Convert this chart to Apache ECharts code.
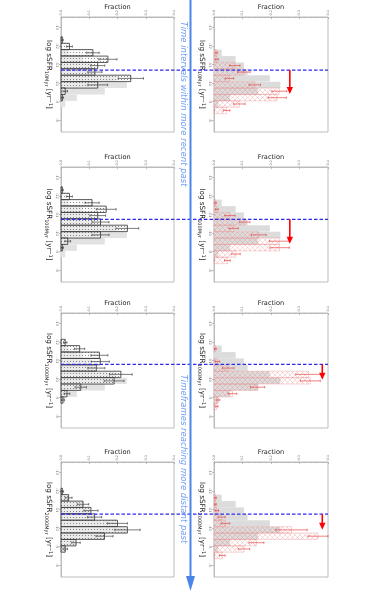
<!DOCTYPE html>
<html><head><meta charset="utf-8">
<script src="https://cdn.jsdelivr.net/npm/echarts@6/dist/echarts.min.js"></script>
<style>html,body{margin:0;padding:0;background:#fff}#c{width:371px;height:594px}</style>
</head><body><div id="c"></div>
<script>
// ---------- data ----------
const binCenters = [-12.31,-11.96,-11.62,-11.27,-10.93,-10.58,-10.24,-9.89,-9.55,-9.20,-8.86,-8.51,-8.17,-7.82];
const binWidth = 0.345;
const fracTicks = [0, 0.1, 0.2, 0.3, 0.4];
const ssfrTicks = [-13, -12, -11, -10, -9, -8];
const rowLabels = ['10Myr', '100Myr', '1000Myr', '2000Myr'];
const grayAll = [0,0,0.027,0.076,0.105,0.118,0.196,0.233,0.155,0.056,0.015,0,0,0];

const leftRow1 = [0.005,0.03,0.113,0.166,0.13,0.12,0.247,0.13,0.015,0.005,0,0,0,0];
const leftErr1 = [0.003,0.01,0.022,0.032,0.025,0.025,0.045,0.035,0.008,0.004,0,0,0,0];
const leftRow2 = [0.005,0.03,0.11,0.16,0.13,0.14,0.235,0.14,0.024,0.005,0,0,0,0];
const leftErr2 = [0.003,0.01,0.025,0.035,0.028,0.03,0.04,0.03,0.01,0.004,0,0,0,0];
const leftRow3 = [0,0.015,0.066,0.136,0.139,0.125,0.212,0.188,0.07,0.021,0.007,0,0,0];
const leftErr3 = [0,0.006,0.018,0.03,0.032,0.03,0.04,0.035,0.02,0.01,0.005,0,0,0];
const leftRow4 = [0,0.005,0.027,0.078,0.106,0.119,0.2,0.235,0.154,0.053,0.015,0,0,0];
const leftErr4 = [0,0.004,0.012,0.02,0.025,0.025,0.035,0.045,0.03,0.015,0.008,0,0,0];

const redRow1 = [0,0,0.008,0.01,0.073,0.105,0.054,0.143,0.229,0.222,0.089,0.044,0,0];
const redErr1 = [0,0,0.004,0.005,0.018,0.022,0.015,0.02,0.026,0.032,0.02,0.012,0,0];
const redRow2 = [0,0,0.005,0.01,0.056,0.108,0.069,0.157,0.229,0.23,0.077,0.047,0,0];
const redErr2 = [0,0,0.003,0.005,0.018,0.018,0.016,0.026,0.035,0.034,0.015,0.01,0,0];
const redRow3 = [0,0,0.005,0,0.012,0.05,0.332,0.338,0.153,0.065,0.015,0.01,0,0];
const redErr3 = [0,0,0.003,0,0.008,0.02,0.045,0.035,0.025,0.015,0.005,0.004,0,0];
const redRow4 = [0,0,0.005,0.005,0.01,0.027,0.04,0.272,0.365,0.149,0.105,0.029,0,0];
const redErr4 = [0,0,0.003,0.003,0.006,0.012,0.015,0.055,0.035,0.026,0.02,0.01,0,0];

const blueLine = [-10.69, -10.73, -10.78, -10.74];
const arrowX = [0.266, 0.266, 0.38, 0.38];
const arrowEnd = [-9.40, -9.41, -9.95, -9.90];

const leftRows = [leftRow1, leftRow2, leftRow3, leftRow4];
const leftErrs = [leftErr1, leftErr2, leftErr3, leftErr4];
const redRows = [redRow1, redRow2, redRow3, redRow4];
const redErrs = [redErr1, redErr2, redErr3, redErr4];

// ---------- layout ----------
const rowTop = [17, 167, 313, 462];
const boxH = 115;
const leftX = 61, leftW = 113;
const rightX = 214, rightW = 114;
const FONT = '"DejaVu Sans", sans-serif';

// ---------- patterns ----------
function hatchCanvas() {
  const c = document.createElement('canvas');
  c.width = 5; c.height = 5;
  const g = c.getContext('2d');
  g.strokeStyle = 'rgba(230,110,110,0.42)';
  g.lineWidth = 0.6;
  g.beginPath();
  g.moveTo(-1, -1); g.lineTo(6, 6);
  g.moveTo(-1, 6); g.lineTo(6, -1);
  g.stroke();
  return c;
}
function dotCanvas() {
  const c = document.createElement('canvas');
  c.width = 3; c.height = 3;
  const g = c.getContext('2d');
  g.fillStyle = 'rgba(245,245,245,0.45)';
  g.fillRect(0, 0, 3, 3);
  g.fillStyle = 'rgba(70,70,70,0.75)';
  g.fillRect(1, 1, 0.9, 0.9);
  return c;
}
const hatchPattern = { image: hatchCanvas(), repeat: 'repeat' };
const dotPattern = { image: dotCanvas(), repeat: 'repeat' };

function barRender(style) {
  return function (params, api) {
    const c = api.value(0), v = api.value(1);
    if (!v) return null;
    const p0 = api.coord([0, c - binWidth / 2]);
    const p1 = api.coord([v, c + binWidth / 2]);
    return {
      type: 'rect',
      shape: { x: p0[0], y: Math.min(p0[1], p1[1]), width: p1[0] - p0[0], height: Math.abs(p1[1] - p0[1]) },
      style: Object.assign({}, style)
    };
  };
}
function errRender(color, w) {
  return function (params, api) {
    const c = api.value(0), v = api.value(1), e = api.value(2);
    if (!v || !e) return null;
    const a = api.coord([v - e, c]);
    const b = api.coord([v + e, c]);
    return {
      type: 'group',
      children: [
        { type: 'line', shape: { x1: a[0], y1: a[1], x2: b[0], y2: b[1] }, style: { stroke: color, lineWidth: w } },
        { type: 'line', shape: { x1: a[0], y1: a[1] - 1.2, x2: a[0], y2: a[1] + 1.2 }, style: { stroke: color, lineWidth: w } },
        { type: 'line', shape: { x1: b[0], y1: b[1] - 1.2, x2: b[0], y2: b[1] + 1.2 }, style: { stroke: color, lineWidth: w } }
      ]
    };
  };
}
function arrowRender(params, api) {
  const x = api.value(0), y0 = api.value(1), y1 = api.value(2);
  const a = api.coord([x, y0]);
  const b = api.coord([x, y1]);
  return {
    type: 'group',
    children: [
      { type: 'line', shape: { x1: a[0], y1: a[1], x2: b[0], y2: b[1] - 5 }, style: { stroke: '#ff0000', lineWidth: 1.6 } },
      { type: 'polygon', shape: { points: [[b[0] - 3.2, b[1] - 7], [b[0] + 3.2, b[1] - 7], [b[0], b[1]]] }, style: { fill: '#ff0000' } }
    ]
  };
}

const grids = [], xAxes = [], yAxes = [], series = [];

function panelAxes(left, width, top, label) {
  const gi = grids.length;
  grids.push({ left: left, top: top, width: width, height: boxH, show: true, borderColor: '#bdbdbd', borderWidth: 1, backgroundColor: 'transparent' });
  xAxes.push({
    gridIndex: gi, type: 'value', position: 'top', min: 0, max: 0.4, interval: 0.1,
    name: 'Fraction', nameLocation: 'middle', nameGap: 6.5, nameMoveOverlap: false,
    nameTextStyle: { fontSize: 6.6, color: '#222', fontFamily: FONT },
    axisLine: { show: true, lineStyle: { color: '#bdbdbd', width: 1 } },
    axisTick: { show: true, inside: true, length: 2.2, lineStyle: { color: '#999', width: 0.6 } },
    minorTick: { show: true, splitNumber: 5, length: 1.2, lineStyle: { color: '#aaa', width: 0.5 } },
    splitLine: { show: false },
    axisLabel: { show: true, rotate: -90, fontSize: 3.4, color: '#777', margin: 1.5, fontFamily: FONT,
      formatter: v => v.toFixed(1) }
  });
  yAxes.push({
    gridIndex: gi, type: 'value', inverse: true, min: -13.55, max: -7.35,
    name: 'log sSFR{s|' + label + '} [yr{p|\u22121}]', nameLocation: 'middle', nameRotate: -90, nameGap: 8,
    nameMoveOverlap: false,
    nameTextStyle: { fontSize: 7.2, color: '#222', fontFamily: FONT,
      rich: { s: { fontSize: 5, fontFamily: FONT, color: '#222', padding: [4, 0, 0, 0] },
              p: { fontSize: 5, fontFamily: FONT, color: '#222', padding: [0, 0, 4, 0] } } },
    axisLine: { show: true, lineStyle: { color: '#bdbdbd', width: 1 } },
    axisTick: { show: true, inside: false, length: 2, customValues: ssfrTicks, lineStyle: { color: '#999', width: 0.6 } },
    splitLine: { show: false },
    axisLabel: { show: true, rotate: -90, fontSize: 3.6, color: '#777', margin: 2, fontFamily: FONT,
      customValues: ssfrTicks, formatter: v => String(v) }
  });
  return gi;
}

for (let r = 0; r < 4; r++) {
  const label = rowLabels[r];
  const grayData = binCenters.map((c, i) => [c, grayAll[i]]);
  // left panel
  const gl = panelAxes(leftX, leftW, rowTop[r], label);
  series.push({ type: 'custom', xAxisIndex: gl, yAxisIndex: gl, encode: { x: 1, y: 0 }, silent: true, z: 1,
    renderItem: barRender({ fill: '#e2e2e2' }), data: grayData });
  series.push({ type: 'custom', xAxisIndex: gl, yAxisIndex: gl, encode: { x: 1, y: 0 }, silent: true, z: 2,
    renderItem: barRender({ fill: dotPattern, stroke: '#333', lineWidth: 0.8 }),
    data: binCenters.map((c, i) => [c, leftRows[r][i]]) });
  series.push({ type: 'custom', xAxisIndex: gl, yAxisIndex: gl, encode: { x: 1, y: 0 }, silent: true, z: 3,
    renderItem: errRender('#444', 0.7),
    data: binCenters.map((c, i) => [c, leftRows[r][i], leftErrs[r][i]]) });
  // right panel
  const gr = panelAxes(rightX, rightW, rowTop[r], label);
  series.push({ type: 'custom', xAxisIndex: gr, yAxisIndex: gr, encode: { x: 1, y: 0 }, silent: true, z: 1,
    renderItem: barRender({ fill: '#dcdcdc' }), data: grayData });
  series.push({ type: 'custom', xAxisIndex: gr, yAxisIndex: gr, encode: { x: 1, y: 0 }, silent: true, z: 2,
    renderItem: barRender({ fill: hatchPattern, stroke: 'rgba(230,120,120,0.5)', lineWidth: 0.6 }),
    data: binCenters.map((c, i) => [c, redRows[r][i]]) });
  series.push({ type: 'custom', xAxisIndex: gr, yAxisIndex: gr, encode: { x: 1, y: 0 }, silent: true, z: 3,
    renderItem: errRender('rgba(230,60,60,0.8)', 0.8),
    data: binCenters.map((c, i) => [c, redRows[r][i], redErrs[r][i]]) });
  series.push({ type: 'custom', xAxisIndex: gr, yAxisIndex: gr, encode: { x: 0, y: 1 }, silent: true, z: 6,
    renderItem: arrowRender, data: [[arrowX[r], blueLine[r], arrowEnd[r]]] });
}
// overlay grids for the dashed blue lines spanning both columns
for (let r = 0; r < 4; r++) {
  const gi = grids.length;
  grids.push({ left: leftX, top: rowTop[r], width: rightX + rightW - leftX, height: boxH, show: false });
  xAxes.push({ gridIndex: gi, type: 'value', min: 0, max: 1, show: false });
  yAxes.push({ gridIndex: gi, type: 'value', inverse: true, min: -13.55, max: -7.35, show: false });
  series.push({ type: 'line', xAxisIndex: gi, yAxisIndex: gi, silent: true, z: 5, symbol: 'none',
    lineStyle: { color: '#2b2bee', width: 1.2, type: [3.5, 2] },
    data: [[0, blueLine[r]], [1, blueLine[r]]] });
}

const chart = echarts.init(document.getElementById('c'), null, { renderer: 'canvas' });
chart.setOption({
  animation: false,
  backgroundColor: '#ffffff',
  grid: grids, xAxis: xAxes, yAxis: yAxes, series: series,
  graphic: [
    { type: 'line', z: 10, shape: { x1: 190.5, y1: 0, x2: 190.5, y2: 578 }, style: { stroke: '#4a86e8', lineWidth: 2 } },
    { type: 'polygon', z: 10, shape: { points: [[186, 576], [195, 576], [190.5, 591]] }, style: { fill: '#4a86e8' } },
    { type: 'text', z: 10, x: 183, y: 104, rotation: -Math.PI / 2,
      style: { text: 'Time intervals within more recent past', fill: '#6f9df0', font: 'italic 8.5px "DejaVu Sans"', align: 'center', verticalAlign: 'middle' } },
    { type: 'text', z: 10, x: 183, y: 459, rotation: -Math.PI / 2,
      style: { text: 'Timeframes reaching more distant past', fill: '#6f9df0', font: 'italic 8.5px "DejaVu Sans"', align: 'center', verticalAlign: 'middle' } }
  ]
});
</script>
</body></html>
